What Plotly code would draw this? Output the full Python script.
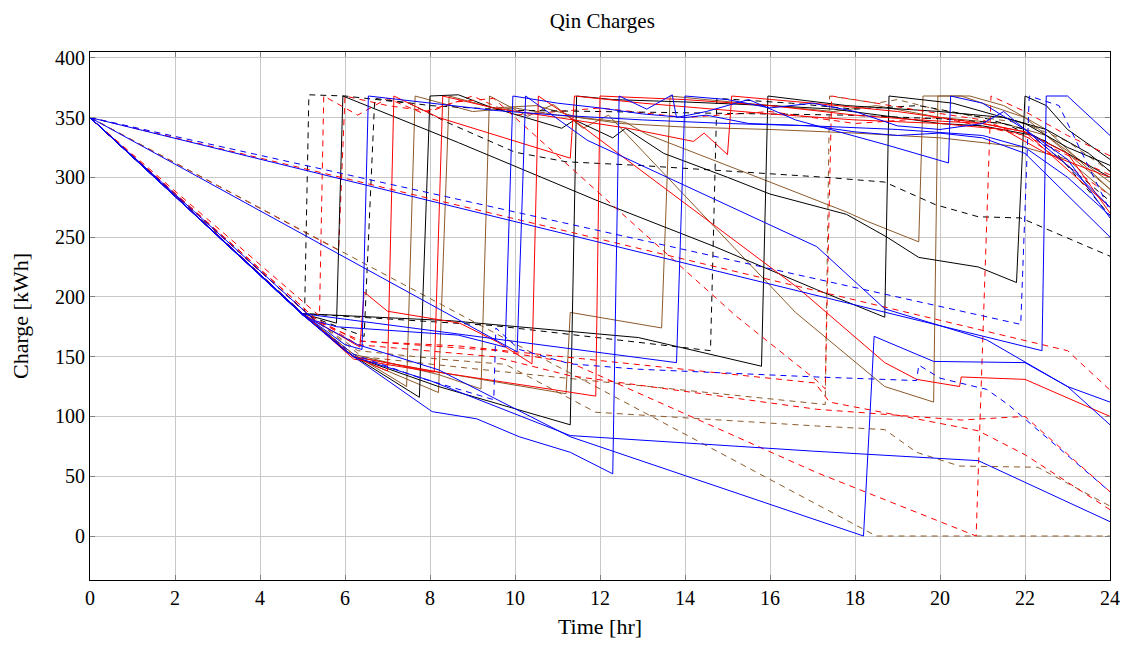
import plotly.graph_objects as go

# ---- charge trajectories (time in hr, charge in kWh) ----
# black
t_bk1 = [0, 5.05, 5.15, 6.0, 7.5, 8.4, 10, 11.2, 12.9, 17.3, 18.7, 19.9, 20.9, 21.9, 24]
q_bk1 = [350, 188, 369, 368, 362, 346, 321, 313, 310, 300, 296, 277, 267, 266, 234]
t_bk2 = [0, 5.0, 6.45, 6.7, 8, 10, 12, 14, 16, 17.8, 20, 21.5, 22.5, 24]
q_bk2 = [350, 186, 167, 366, 360, 356, 355, 354, 353, 352, 349, 345, 330, 268]
t_bk3 = [0, 5.0, 9.5, 14.6, 14.75, 16.5, 18, 19.5, 21, 22, 23, 24]
q_bk3 = [350, 186, 176, 155, 366, 362, 357, 360, 350, 340, 310, 280]
t_bk4 = [0, 5.0, 5.8, 5.95, 8.67, 11.9, 14.7, 17.1, 18.7, 18.8, 20.3, 22, 23, 24]
q_bk4 = [350, 186, 178, 368, 329, 281, 242, 206, 183, 368, 362, 345, 325, 310]
t_bk5 = [0, 5.0, 6.0, 7.75, 8.0, 8.67, 9.4, 11.1, 11.4, 12.3, 12.6, 13.5, 15, 16, 17.8, 18.75, 19.5, 20.9, 21.8, 22.0, 22.5, 23, 24]
q_bk5 = [350, 186, 155, 116, 368, 369, 359, 341, 348, 333, 341, 320, 300, 286, 269, 250, 233, 225, 212, 368, 360, 340, 315]
t_bk6 = [0, 5.0, 6.2, 8.2, 11.3, 11.45, 12.3, 14, 16, 17.5, 19, 20, 21, 22.2, 23, 24]
q_bk6 = [350, 186, 150, 125, 93, 368, 365, 363, 360, 357, 350, 345, 343, 335, 320, 300]
t_bk7 = [0, 5.0, 8.5, 12.9, 15.8, 15.95, 17.8, 20, 21.5, 22.5, 23.5, 24]
q_bk7 = [350, 186, 180, 166, 142, 368, 360, 355, 350, 340, 320, 305]

# red
t_rd1 = [0, 5.4, 5.5, 6.3, 7.0, 7.8, 8.6, 9.5, 15.2, 17.1, 17.3, 17.45, 18.5, 19.5, 21, 22.3, 24]
q_rd1 = [350, 184, 368, 352, 366, 354, 363, 366, 184, 130, 123, 368, 362, 356, 348, 330, 302]
t_rd2 = [0, 5.85, 6.0, 7, 8, 9, 10, 12, 14, 16, 18, 20, 22, 24]
q_rd2 = [350, 239, 368, 360, 355, 368, 352, 358, 350, 355, 345, 350, 335, 285]
t_rd3 = [0, 23, 24]
q_rd3 = [350, 155, 122]
t_rd4 = [0, 5.0, 6.2, 7.0, 7.15, 8.2, 11.3, 11.4, 13, 15, 16, 18, 20, 21.5, 22.5, 24]
q_rd4 = [350, 186, 150, 138, 368, 350, 316, 368, 362, 356, 353, 348, 345, 340, 320, 300]
t_rd5 = [0, 5.0, 6.2, 8.1, 8.3, 9.5, 11, 12.65, 14.2, 14.45, 15, 15.1, 17, 19, 21, 22, 24]
q_rd5 = [350, 186, 148, 137, 368, 358, 350, 341, 330, 337, 319, 368, 362, 355, 345, 338, 275]
t_rd6 = [0, 5.0, 6.35, 6.45, 7.0, 8.7, 9.6, 10.4, 10.55, 11.3, 16.64, 18.7, 19.45, 20.46, 20.5, 22, 24]
q_rd6 = [350, 186, 158, 204, 188, 178, 162, 144, 368, 350, 208, 145, 131, 125, 133, 131, 100]
t_rd7 = [0, 5.0, 6.2, 8.2, 11.9, 12.0, 14, 16, 18, 19.5, 21, 22, 23, 24]
q_rd7 = [350, 186, 150, 137, 117, 368, 365, 360, 352, 348, 345, 338, 320, 270]
t_rd8 = [0, 5.3, 6.3, 8.67, 17.06, 17.4, 20.9, 22, 24]
q_rd8 = [350, 182, 163, 159, 128, 112, 88, 68, 22]
t_rd9 = [0, 5.3, 6.4, 9.6, 11.3, 17.1, 20.85, 21.2, 22, 23, 24]
q_rd9 = [350, 180, 163, 155, 145, 53, 0, 368, 355, 335, 318]
t_rd10 = [0, 5.3, 6.3, 9.5, 11.3, 17.1, 20.5, 22, 24]
q_rd10 = [350, 182, 160, 150, 134, 106, 97, 100, 37]

# blue
t_bl1 = [0, 21.9, 22.1, 22.8, 24]
q_bl1 = [350, 177, 368, 360, 272]
t_bl2 = [0, 22.4, 22.5, 23, 24]
q_bl2 = [350, 155, 368, 368, 335]
t_bl3 = [0, 5.0, 6.0, 6.4, 6.55, 8, 9.5, 11, 13, 15, 17, 19, 21, 22, 23, 24]
q_bl3 = [350, 186, 160, 156, 368, 362, 356, 352, 348, 345, 343, 340, 335, 325, 300, 268]
t_bl4 = [0, 5.3, 5.8, 8.67, 9.77, 9.95, 11, 12, 13, 14, 14.5, 15.5, 17, 18, 19, 20, 21, 22, 24]
q_bl4 = [350, 180, 175, 168, 158, 368, 362, 358, 353, 350, 352, 345, 343, 338, 335, 337, 333, 320, 250]
t_bl5 = [0, 10.05, 10.25, 11.7, 17.1, 18.7, 21.1, 23, 24]
q_bl5 = [350, 154, 368, 331, 242, 190, 164, 125, 112]
t_bl6 = [0, 5, 6, 8.05, 9.1, 10.1, 11.3, 12.3, 12.45, 13.1, 13.7, 13.8, 14.5, 15.5, 16.6, 18.75, 20.2, 20.25, 21, 22, 23, 24]
q_bl6 = [350, 185, 155, 104, 98, 83, 70, 52, 368, 357, 369, 350, 355, 365, 348, 327, 312, 368, 362, 340, 315, 266]
t_bl7 = [0, 5, 13.8, 14.0, 15, 16, 17, 18, 19, 20, 21, 21.5, 22, 23, 24]
q_bl7 = [350, 186, 145, 368, 365, 358, 362, 355, 343, 340, 345, 355, 340, 310, 275]
t_bl8 = [0, 5, 6.3, 8.2, 11.3, 18.2, 18.45, 19.45, 19.85, 22, 23, 24]
q_bl8 = [350, 185, 160, 139, 83, 0, 167, 152, 146, 145, 125, 93]
t_bl9 = [0, 5, 6.2, 8, 11.3, 17, 20.9, 22, 24]
q_bl9 = [350, 185, 150, 130, 84, 71, 63, 45, 12]
t_bl10 = [0, 5, 6.2, 7.7, 9.5, 9.55, 10.1, 11.3, 12.9, 17.1, 19.45, 19.5, 20.0, 21.1, 21.6, 24]
q_bl10 = [350, 185, 152, 133, 114, 174, 156, 144, 139.5, 133, 130, 143, 132, 122.6, 110, 37]

# brown
t_br1 = [0, 5.0, 6.2, 7.45, 7.65, 8.5, 9, 10, 11, 12.6, 13.1, 16, 17.8, 18.3, 19.5, 19.6, 20.5, 22, 24]
q_br1 = [350, 186, 152, 125, 368, 360, 355, 358, 352, 346, 336, 296, 271, 263, 246, 368, 368, 350, 290]
t_br2 = [0, 5.0, 6.2, 8.2, 8.45, 9.5, 10.5, 11.5, 12.5, 14, 16, 18, 20, 22, 23, 24]
q_br2 = [350, 186, 150, 120, 368, 358, 360, 350, 345, 342, 340, 337, 333, 325, 315, 285]
t_br3 = [0, 5.0, 6.2, 8.2, 9.2, 9.4, 10.3, 10.9, 11.6, 12.2, 16.6, 18.7, 19.85, 19.95, 20.7, 21.5, 22.5, 24]
q_br3 = [350, 186, 152, 135, 123, 368, 351, 361, 341, 352, 187, 125, 112, 368, 368, 360, 340, 290]
t_br4 = [0, 5, 6.2, 8.2, 11.2, 11.3, 13.45, 13.65, 14.5, 16, 17.5, 18.5, 20, 21.5, 22.5, 24]
q_br4 = [350, 186, 150, 137, 119, 187, 174, 368, 365, 360, 355, 360, 350, 345, 335, 296]
t_br5 = [0, 18.5, 24]
q_br5 = [350, 0, 0]
t_br6 = [0, 5.2, 6.3, 8.2, 9.77, 11.9, 17.1, 18.7, 19.45, 20.46, 22.3, 24]
q_br6 = [350, 183, 155, 148, 143.6, 103.5, 92, 89, 70, 58.5, 57.5, 25]
t_br7 = [0, 5.2, 6.4, 9, 17.3, 17.4, 18.5, 19, 20, 21, 22, 23, 24]
q_br7 = [350, 183, 150, 140, 110, 368, 362, 365, 356, 350, 345, 330, 305]

BLUE, RED, BLACK, BROWN = "#0000ff", "#ff0000", "#000000", "#8c5a2b"
DASH = "6px,5px"

series = [
    (t_rd2, q_rd2, RED, DASH),
    (t_br5, q_br5, BROWN, DASH), (t_br6, q_br6, BROWN, DASH), (t_br7, q_br7, BROWN, DASH),
    (t_br1, q_br1, BROWN, None), (t_br2, q_br2, BROWN, None), (t_br3, q_br3, BROWN, None),
    (t_br4, q_br4, BROWN, None),
    (t_bk1, q_bk1, BLACK, DASH), (t_bk2, q_bk2, BLACK, DASH), (t_bk3, q_bk3, BLACK, DASH),
    (t_bk4, q_bk4, BLACK, None), (t_bk5, q_bk5, BLACK, None), (t_bk6, q_bk6, BLACK, None),
    (t_bk7, q_bk7, BLACK, None),
    (t_rd1, q_rd1, RED, DASH), (t_rd3, q_rd3, RED, DASH),
    (t_rd8, q_rd8, RED, DASH), (t_rd9, q_rd9, RED, DASH), (t_rd10, q_rd10, RED, DASH),
    (t_rd4, q_rd4, RED, None), (t_rd5, q_rd5, RED, None), (t_rd6, q_rd6, RED, None),
    (t_rd7, q_rd7, RED, None),
    (t_bl1, q_bl1, BLUE, DASH), (t_bl10, q_bl10, BLUE, DASH),
    (t_bl2, q_bl2, BLUE, None), (t_bl3, q_bl3, BLUE, None), (t_bl4, q_bl4, BLUE, None),
    (t_bl5, q_bl5, BLUE, None), (t_bl6, q_bl6, BLUE, None), (t_bl7, q_bl7, BLUE, None),
    (t_bl8, q_bl8, BLUE, None), (t_bl9, q_bl9, BLUE, None),
]

fig = go.Figure()
for t, q, color, dash in series:
    fig.add_trace(go.Scatter(
        x=t, y=q, mode="lines", showlegend=False, hoverinfo="skip",
        line=dict(color=color, width=1, dash=dash or "solid"),
    ))

FONT = "Liberation Serif"
axis_common = dict(
    showgrid=True, gridcolor="#c8c8c8", gridwidth=1,
    zeroline=False, showline=True, linecolor="black", linewidth=1, mirror="allticks",
    ticks="inside", ticklen=5, tickcolor="#808080",
    tickfont=dict(family=FONT, size=20, color="black"),
)
fig.update_layout(
    width=1132, height=646,
    margin=dict(l=90, r=16, t=52, b=65),
    paper_bgcolor="white", plot_bgcolor="white",
    title=dict(text="Qin Charges", x=0.532, xanchor="center", y=0.968, yanchor="middle",
               font=dict(family=FONT, size=21, color="black")),
    xaxis=dict(range=[0, 24], tickvals=list(range(0, 25, 2)),
               title=dict(text="Time [hr]", font=dict(family=FONT, size=22, color="black"), standoff=10),
               **axis_common),
    yaxis=dict(range=[-36.8, 404.8], tickvals=list(range(0, 401, 50)),
               title=dict(text="Charge [kWh]", font=dict(family=FONT, size=22, color="black"), standoff=20),
               **axis_common),
)

fig.write_html("out.html")
